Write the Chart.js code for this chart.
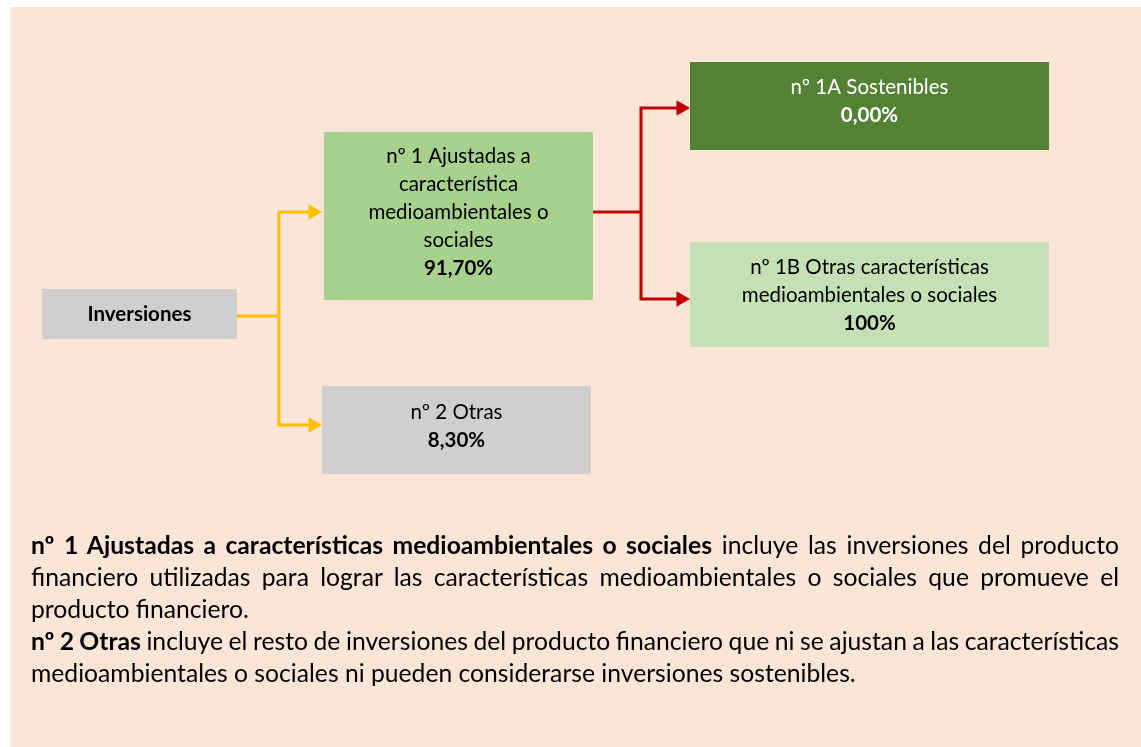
<!DOCTYPE html>
<html>
<head>
<meta charset="utf-8">
<script src="https://cdn.jsdelivr.net/npm/chart.js@4.4.1/dist/chart.umd.min.js"></script>
<style>
  body { margin: 0; background: #fff; font-family: Lato, sans-serif; }
  #panel { position: absolute; left: 10px; top: 7px; width: 1131px; height: 740px; background: #FBE5D6; }
  #wrap { position: absolute; left: 0; top: 0; width: 1141px; height: 747px; }
  #notes { position: absolute; left: 31px; top: 529px; width: 1088px; font-size: 24.7px; line-height: 32px; color: #000; }
  #notes div { text-align: justify; text-align-last: justify; }
  #notes div.last { text-align-last: left; }
  #notes div.tight { word-spacing: -2px; }
</style>
</head>
<body>
<div id="panel"></div>
<div id="wrap"><canvas id="diagram" width="1141" height="747"></canvas></div>
<div id="notes">
  <div><b>nº 1 Ajustadas a características medioambientales o sociales</b> incluye las inversiones del producto</div>
  <div>financiero utilizadas para lograr las características medioambientales o sociales que promueve el</div>
  <div class="last">producto financiero.</div>
  <div class="tight"><b>nº 2 Otras</b> incluye el resto de inversiones del producto financiero que ni se ajustan a las características</div>
  <div class="last">medioambientales o sociales ni pueden considerarse inversiones sostenibles.</div>
</div>
<script>
// nodes of the tree
const nodeTitles = [
  ["Inversiones"],
  ["nº 1 Ajustadas a", "característica", "medioambientales o", "sociales"],
  ["nº 2 Otras"],
  ["nº 1A Sostenibles"],
  ["nº 1B Otras características", "medioambientales o sociales"]
];
const nodeShares = ["", "91,70%", "8,30%", "0,00%", "100%"];

// layout (page pixels): [left, top, right, bottom]
const boxRects = [
  [42, 289, 237, 339],
  [324, 132, 593, 300],
  [322, 386, 591, 474],
  [690, 62, 1049, 150],
  [690, 242, 1049, 347]
];
const textMid = [314, 212, 426, 101, 295];
const boxFill = ["#D0CECE", "#A9D18E", "#D0CECE", "#548235", "#C5E0B4"];
const boxInk = ["#000", "#000", "#000", "#fff", "#000"];
const lineGap = 28;

// connectors
const yellowStem = [[237, 316], [279, 316]];
const yellowFork = [[309, 212], [279, 212], [279, 425], [309, 425]];
const redStem = [[593, 212], [641, 212]];
const redFork = [[677, 108], [641, 108], [641, 299], [677, 299]];
const yellowTips = [[313, 212], [313, 425]];
const redTips = [[681, 108], [681, 299]];

const toPts = (arr) => arr.map(p => ({ x: p[0], y: p[1] }));

function connector(points, color) {
  return {
    data: toPts(points),
    showLine: true,
    borderColor: color,
    borderWidth: 3,
    borderCapStyle: "butt",
    borderJoinStyle: "miter",
    pointRadius: 0,
    tension: 0
  };
}

function arrowHeads(points, color) {
  return {
    data: toPts(points),
    showLine: false,
    pointStyle: "triangle",
    pointRotation: 90,
    pointRadius: 9,
    pointBackgroundColor: color,
    pointBorderColor: color,
    pointBorderWidth: 0
  };
}

const boxPlugin = {
  id: "boxes",
  beforeDatasetsDraw(chart) {
    const { ctx, scales: { x, y } } = chart;
    ctx.save();
    boxRects.forEach((r, i) => {
      const x0 = x.getPixelForValue(r[0]), x1 = x.getPixelForValue(r[2]);
      const y0 = y.getPixelForValue(r[1]), y1 = y.getPixelForValue(r[3]);
      ctx.fillStyle = boxFill[i];
      ctx.fillRect(x0, y0, x1 - x0, y1 - y0);

      const lines = nodeTitles[i].map(t => ({ t: t, bold: i === 0 }));
      if (nodeShares[i]) lines.push({ t: nodeShares[i], bold: true });
      const start = y.getPixelForValue(textMid[i]) - (lines.length - 1) * lineGap / 2;
      ctx.fillStyle = boxInk[i];
      ctx.textAlign = "center";
      ctx.textBaseline = "middle";
      lines.forEach((l, k) => {
        ctx.font = (l.bold ? "bold " : "") + "20.5px Lato";
        ctx.fillText(l.t, (x0 + x1) / 2, start + k * lineGap);
      });
    });
    ctx.restore();
  }
};

new Chart("diagram", {
  type: "scatter",
  data: {
    datasets: [
      connector(yellowStem, "#FFC000"),
      connector(yellowFork, "#FFC000"),
      connector(redStem, "#C00000"),
      connector(redFork, "#C00000"),
      arrowHeads(yellowTips, "#FFC000"),
      arrowHeads(redTips, "#C00000")
    ]
  },
  options: {
    responsive: false,
    animation: false,
    events: [],
    layout: { padding: 0, autoPadding: false },
    plugins: { legend: { display: false }, tooltip: { enabled: false } },
    scales: {
      x: { type: "linear", min: 0, max: 1141, display: false },
      y: { type: "linear", min: 0, max: 747, reverse: true, display: false }
    }
  },
  plugins: [boxPlugin]
});
</script>
</body>
</html>
